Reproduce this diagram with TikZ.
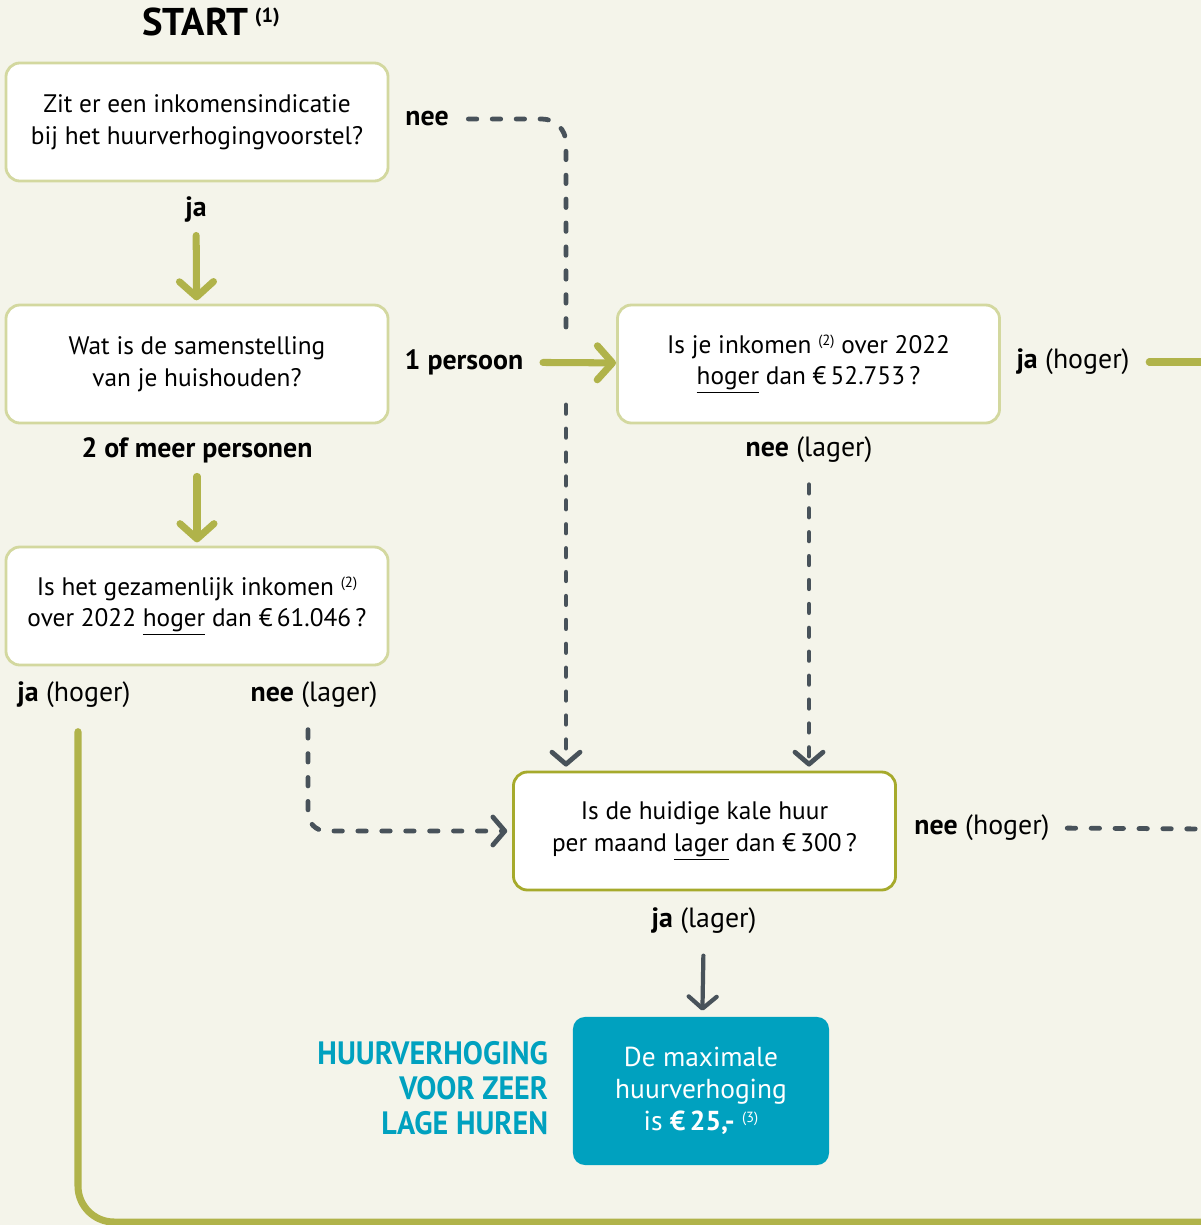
\documentclass[tikz,border=0pt]{standalone}
\usepackage{fontspec}
\setmainfont{PT Sans}
\newfontfamily\headfont[FakeStretch=0.93]{PT Sans}
\usetikzlibrary{%
  calc,
  positioning,
  arrows.meta,
}
\definecolor{bgcol}{HTML}{F4F4EA}
\definecolor{boxline}{HTML}{D3D89F}
\definecolor{boxdark}{HTML}{A6AA2C}
\definecolor{arrowgreen}{HTML}{B0B34A}
\definecolor{darkgray}{HTML}{48525A}
\definecolor{teal}{HTML}{00A1BF}
\newcommand{\boxfont}{\fontsize{18}{22.7}\selectfont}
\newcommand{\lblfont}{\fontsize{19.8}{22.7}\selectfont}
\newcommand{\noot}[1]{\raisebox{0.6ex}{\fontsize{10.5}{10.5}\selectfont(#1)}}
\tikzset{
  qbox/.style = {
    rectangle, rounded corners = 0.35cm,
    draw = boxline, line width = 2pt, fill = white,
    minimum width = 9.55cm, minimum height = 2.95cm,
    align = center, font = \boxfont,
  },
  lbl/.style = {font = \lblfont, inner sep = 1pt},
  greenarrow/.style = {
    draw = arrowgreen, line width = 5pt, line cap = round,
    -{Straight Barb[round, length = 0.38cm, width = 0.85cm]},
  },
  greenline/.style = {draw = arrowgreen, line width = 5pt, line cap = round},
  dashline/.style = {
    draw = darkgray, line width = 3.4pt, line cap = round,
    dash pattern = on 6pt off 11pt,
  },
  dasharrow/.style = {
    dashline,
    -{Straight Barb[round, length = 0.3cm, width = 0.7cm]},
  },
}

\begin{document}
\begin{tikzpicture}[x = 0.025cm, y = -0.025cm]
  \fill[bgcol] (0,0) rectangle (1201,1225);
  \useasboundingbox (0,0) rectangle (1201,1225);

  % title
  \node[font = \fontsize{27.5}{30}\selectfont\bfseries] (start) at (211,22)
    {START\,\raisebox{0.7ex}{\fontsize{14.5}{14.5}\selectfont(1)}};

  % question boxes
  \node[qbox] (indicatie) at (197,122)
    {Zit er een inkomensindicatie\\bij het huurverhogingvoorstel?};
  \node[qbox] (huishouden) at (197,364)
    {Wat is de samenstelling\\van je huishouden?};
  \node[qbox] (inkomen) at (808.5,364)
    {Is je inkomen \noot{2} over 2022\\\underline{hoger} dan €\,52.753\,?};
  \node[qbox] (gezamenlijk) at (197,606)
    {Is het gezamenlijk inkomen \noot{2}\\over 2022 \underline{hoger} dan €\,61.046\,?};
  \node[qbox, draw = boxdark] (kalehuur) at (704.5,831)
    {Is de huidige kale huur\\per maand \underline{lager} dan €\,300\,?};

  % result
  \node[
    rectangle, rounded corners = 0.3cm, fill = teal,
    minimum width = 6.4cm, minimum height = 3.7cm,
    align = center, text = white, font = \fontsize{19.5}{22.7}\selectfont,
  ] (maximaal) at (701,1091)
    {De maximale\\huurverhoging\\is \textbf{€\,25,-} \noot{3}};
  \node[
    align = right, anchor = east, text = teal,
    font = \headfont\fontsize{23}{24.8}\selectfont\bfseries,
  ] (zeerlaag) at (553,1088)
    {HUURVERHOGING\\VOOR ZEER\\LAGE HUREN};

  % answers
  \node[lbl, font = \lblfont\bfseries] (nee1) at (427,119) {nee};
  \node[lbl, font = \lblfont\bfseries] (ja1) at (196,209) {ja};
  \node[lbl, font = \lblfont\bfseries] (eenpersoon) at (464,362) {1 persoon};
  \node[lbl, font = \lblfont\bfseries] (meer) at (197,450) {2 of meer personen};
  \node[lbl] (jahoger1) at (1073,362) {\textbf{ja} (hoger)};
  \node[lbl] (neelager1) at (809,450) {\textbf{nee} (lager)};
  \node[lbl] (jahoger2) at (74,695) {\textbf{ja} (hoger)};
  \node[lbl] (neelager2) at (314,695) {\textbf{nee} (lager)};
  \node[lbl] (neehoger) at (982,828) {\textbf{nee} (hoger)};
  \node[lbl] (jalager) at (704,921) {\textbf{ja} (lager)};

  % points where lines break off or leave the picture
  \coordinate (breakA) at (566,328);
  \coordinate (breakB) at (566,405);
  \coordinate (rightA) at (1210,362);
  \coordinate (rightB) at (1210,829);
  \coordinate (bottomline) at (1210,1222);

  % green connectors
  \draw[greenarrow, shorten < = 0.3cm, shorten > = 0.08cm] (ja1) -- (huishouden);
  \draw[greenarrow, shorten < = 0.3cm, shorten > = 0.08cm] (meer) -- (gezamenlijk);
  \draw[greenarrow, shorten < = 0.45cm] (eenpersoon) -- (inkomen);
  \draw[greenline, shorten < = 0.45cm] (jahoger1) -- (rightA);
  \draw[greenline, rounded corners = 0.9cm]
    ([xshift = 0.1cm, yshift = -0.55cm]jahoger2.south) |- (bottomline);

  % dashed connectors
  \draw[dashline, rounded corners = 0.6cm, shorten < = 0.45cm]
    (nee1.east) -- (nee1.east -| breakA) -- (breakA);
  \draw[dasharrow, shorten > = 0.1cm] (breakB) -- (breakB |- kalehuur.north);
  \draw[dasharrow, shorten < = 0.5cm, shorten > = 0.1cm]
    (neelager1) -- (neelager1 |- kalehuur.north);
  \draw[dasharrow, rounded corners = 0.45cm, shorten > = 0.12cm]
    ([xshift = -0.15cm, yshift = -0.5cm]neelager2.south) |- (kalehuur.west);
  \draw[dashline, shorten < = 0.4cm] (neehoger.east) -- (rightB);

  % last step
  \draw[
    draw = darkgray, line width = 3pt, line cap = round,
    -{Straight Barb[round, length = 0.3cm, width = 0.7cm]},
    shorten < = 0.5cm, shorten > = 0.15cm,
  ] (jalager) -- (maximaal);
\end{tikzpicture}
\end{document}
